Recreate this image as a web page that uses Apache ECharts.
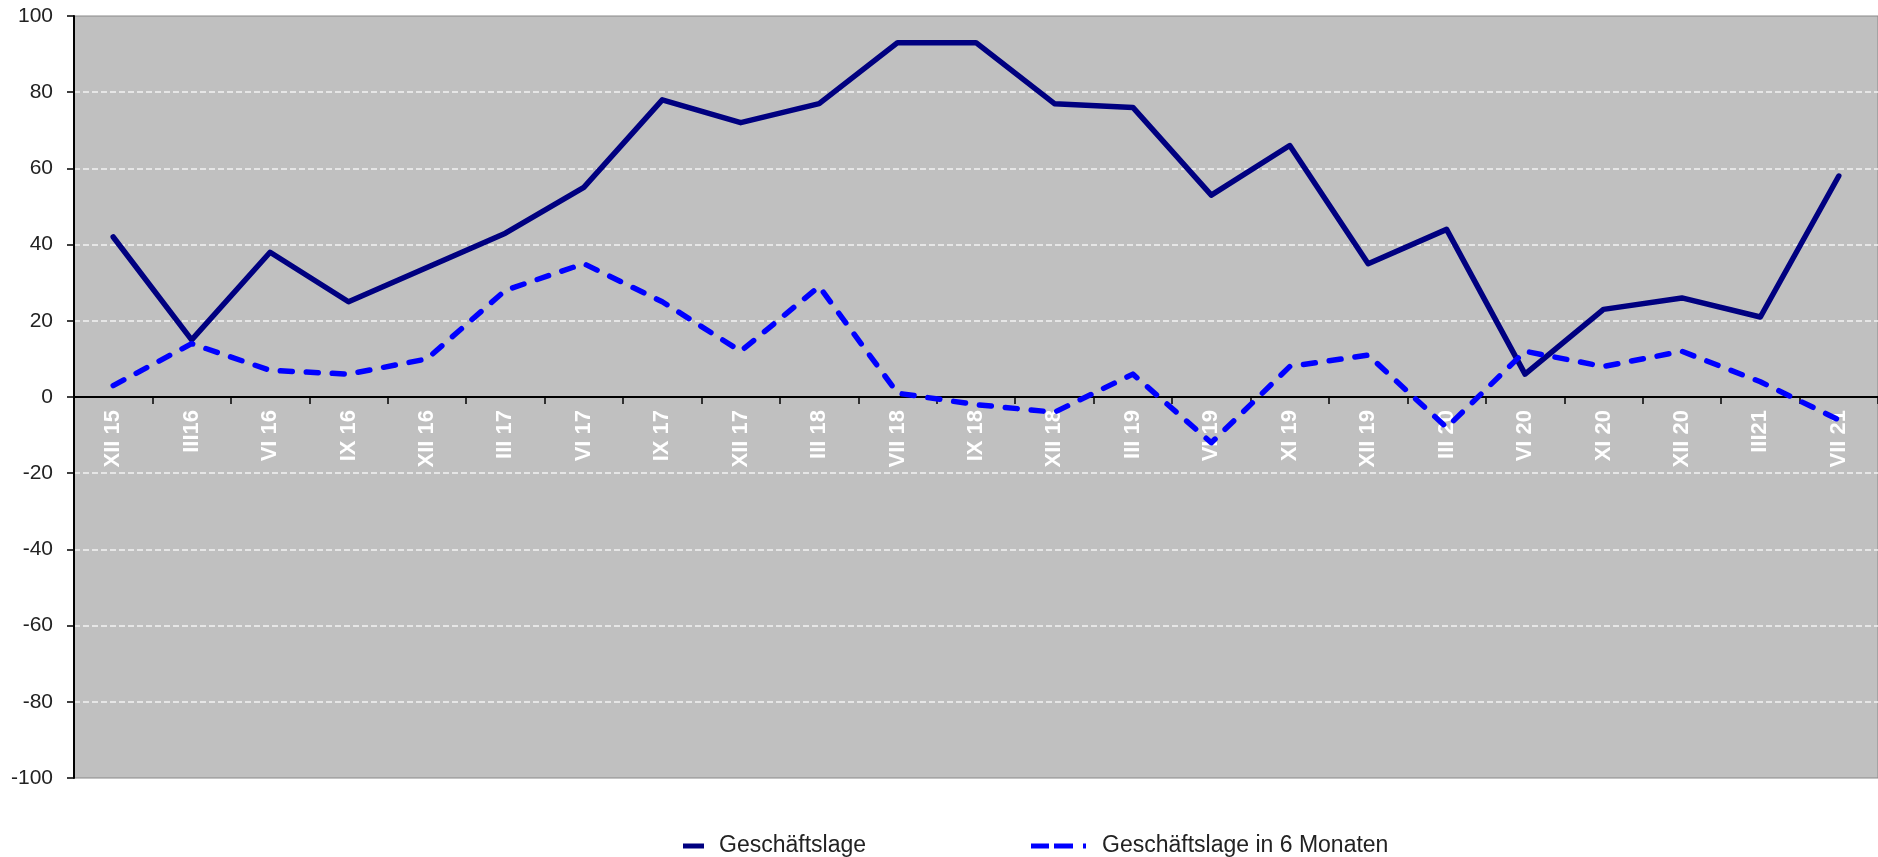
<!DOCTYPE html>
<html>
<head>
<meta charset="utf-8">
<script src="https://cdn.jsdelivr.net/npm/echarts@6/dist/echarts.min.js"></script>
<style>
html,body{margin:0;padding:0;background:#fff;}
#chart{width:1878px;height:857px;}
</style>
</head>
<body>
<div id="chart"></div>
<script>
const categories = ['XII 15','III16','VI 16','IX 16','XII 16','III 17','VI 17','IX 17','XII 17','III 18','VII 18','IX 18','XII 18','III 19','VI 19','XI 19','XII 19','III 20','VI 20','XI 20','XII 20','III21','VII 21'];
const geschaeftslage = [42,15,38,25,34,43,55,78,72,77,93,93,77,76,53,66,35,44,6,23,26,21,58];
const geschaeftslage6 = [3,14,7,6,10,28,35,25,12,29,1,-2,-4,6,-12,8,11,-8,12,8,12,4,-6];
const seriesNames = ['Geschäftslage','Geschäftslage in 6 Monaten'];
const yTicks = {min:-100, max:100, interval:20};

const chart = echarts.init(document.getElementById('chart'), null, {renderer:'canvas'});
const font = "'Liberation Sans', Arial, sans-serif";
const gridTop = 16, gridBottom = 79, plotH = 857 - gridTop - gridBottom;
chart.setOption({
  animation:false,
  backgroundColor:'#ffffff',
  grid:{left:74, right:0, top:gridTop, bottom:gridBottom, show:true, backgroundColor:'#C0C0C0', borderColor:'#888888', borderWidth:1, z:0},
  legend:[
    {data:[{name:seriesNames[0], icon:'path://M0,0h21v5h-21z'}], left:678, top:829, itemWidth:21, itemHeight:5,
     textStyle:{fontFamily:font, fontSize:23, color:'#222', lineHeight:24, padding:[0,0,0,10]}},
    {data:[{name:seriesNames[1], icon:'path://M0,0h18v5h-18z M23,0h19v5h-19z M52,0h3v5h-3z'}], left:1026, top:829, itemWidth:55, itemHeight:5,
     textStyle:{fontFamily:font, fontSize:23, color:'#222', lineHeight:24, padding:[0,0,0,11]}}
  ],
  xAxis:{
    type:'category', data:categories, boundaryGap:true, z:3,
    offset:-plotH/2,
    axisLine:{onZero:false, lineStyle:{color:'#000', width:2}},
    axisTick:{show:true, length:7, lineStyle:{color:'#000', width:1.5}},
    axisLabel:{show:true, rotate:90, margin:13, color:'#ffffff', fontWeight:'bold', fontSize:22, fontFamily:font, interval:0},
    splitLine:{show:false}
  },
  yAxis:{
    type:'value', min:yTicks.min, max:yTicks.max, interval:yTicks.interval, z:3,
    axisLine:{show:true, lineStyle:{color:'#000', width:2}},
    axisTick:{show:true, length:7, lineStyle:{color:'#000', width:1.5}},
    axisLabel:{margin:21, color:'#222', fontSize:21, fontFamily:font},
    splitLine:{show:true, showMinLine:false, showMaxLine:false, lineStyle:{color:'#f2f2f2', width:1.5, type:[6,3]}}
  },
  series:[
    {name:seriesNames[0], type:'line', data:geschaeftslage, symbol:'none', z:5,
     lineStyle:{color:'#000080', width:5.5, cap:'round', join:'round'}, itemStyle:{color:'#000080'}},
    {name:seriesNames[1], type:'line', data:geschaeftslage6, symbol:'none', z:6,
     lineStyle:{color:'#0000FF', width:5.5, type:[12,14], cap:'round', join:'round'}, itemStyle:{color:'#0000FF'}}
  ]
});
</script>
</body>
</html>
